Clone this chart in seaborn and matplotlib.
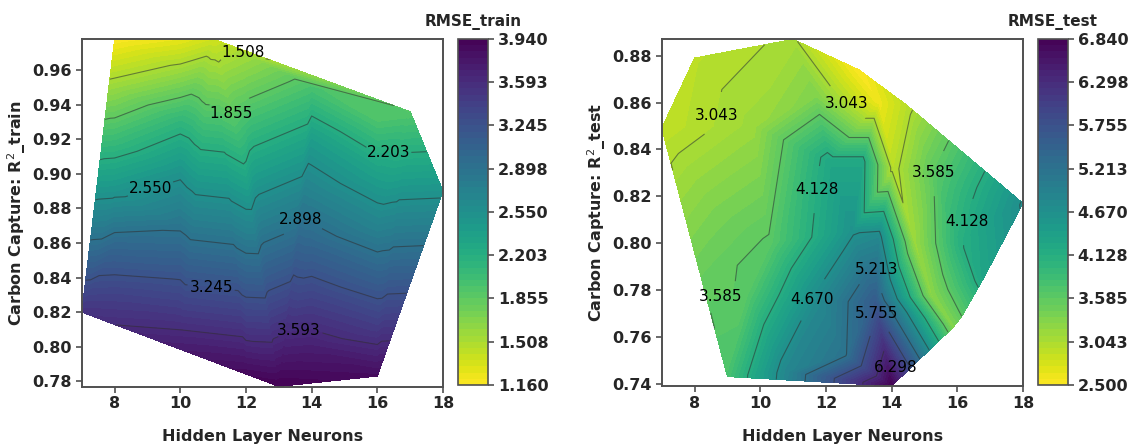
import numpy as np
import matplotlib
matplotlib.use("Agg")
import matplotlib.pyplot as plt
import matplotlib.tri as mtri
import seaborn as sns

# ---------------- data ----------------
# training set: hidden-layer neurons, R^2 (train), RMSE (train)
neurons_train = [7, 8, 11, 17, 18, 16, 13,
                 8, 8, 8, 8, 8,
                 10, 10, 10, 10, 10, 10, 10,
                 12, 12, 12, 12, 12, 12, 12,
                 14, 14, 14, 14, 14, 14,
                 16, 16, 16, 16, 16]
r2_train = [0.820, 0.978, 0.978, 0.936, 0.890, 0.783, 0.777,
            0.950, 0.920, 0.890, 0.860, 0.830,
            0.978, 0.960, 0.930, 0.900, 0.870, 0.840, 0.810,
            0.960, 0.930, 0.900, 0.870, 0.840, 0.810, 0.786,
            0.950, 0.920, 0.890, 0.860, 0.830, 0.800,
            0.930, 0.900, 0.870, 0.840, 0.810]
rmse_train = [3.52, 1.16, 1.35, 1.90, 2.50, 3.85, 3.94,
              1.59, 2.04, 2.49, 3.00, 3.40,
              1.25, 1.57, 2.11, 2.51, 2.86, 3.23, 3.59,
              1.65, 1.99, 2.27, 2.68, 3.09, 3.50, 3.85,
              1.96, 2.40, 2.70, 3.02, 3.37, 3.70,
              1.95, 2.36, 2.70, 3.09, 3.47]

# test set: hidden-layer neurons, R^2 (test), RMSE (test)
neurons_test = [7.00, 8.00, 11.00, 13.00, 14.45, 18.00, 16.80, 16.15, 15.87, 14.00, 9.00,
                8.30, 8.60, 9.60, 10.30, 9.80, 11.70, 12.10, 13.10, 12.80, 13.60,
                10.80, 11.80, 12.60, 13.50, 14.04, 14.70, 15.20, 15.30, 16.10, 17.00,
                13.60]
r2_test = [0.849, 0.879, 0.887, 0.874, 0.859, 0.817, 0.785, 0.769, 0.764, 0.739, 0.743,
           0.781, 0.815, 0.780, 0.800, 0.850, 0.862, 0.835, 0.835, 0.805, 0.803,
           0.745, 0.775, 0.752, 0.775, 0.832, 0.800, 0.778, 0.830, 0.800, 0.810,
           0.860]
rmse_test = [2.90, 2.95, 3.08, 2.50, 2.95, 4.70, 4.30, 3.60, 3.30, 6.84, 3.75,
             3.55, 3.35, 3.60, 3.62, 3.15, 3.35, 4.25, 4.25, 4.62, 4.80,
             4.85, 4.80, 5.20, 5.60, 2.95, 3.15, 3.25, 3.60, 4.10, 4.40,
             2.60]

train_cbar_labels = ["1.160", "1.508", "1.855", "2.203", "2.550",
                     "2.898", "3.245", "3.593", "3.940"]
test_cbar_labels = ["2.500", "3.043", "3.585", "4.128", "4.670",
                    "5.213", "5.755", "6.298", "6.840"]
xticks = [8, 10, 12, 14, 16, 18]
train_yticks = [0.78, 0.80, 0.82, 0.84, 0.86, 0.88, 0.90, 0.92, 0.94, 0.96]
test_yticks = [0.74, 0.76, 0.78, 0.80, 0.82, 0.84, 0.86, 0.88]

# contour-label placement: level index -> list of (x, y)
train_label_pos = {1: [(11.84, 0.966)], 2: [(11.48, 0.931)], 3: [(16.31, 0.916)],
                   4: [(9.00, 0.897)], 5: [(13.62, 0.874)], 6: [(10.96, 0.838)],
                   7: [(13.62, 0.809)]}
test_label_pos = {1: [(8.17, 0.856), (12.48, 0.857)],
                  2: [(14.99, 0.831), (8.72, 0.779)],
                  3: [(12.34, 0.822), (15.98, 0.810)],
                  4: [(11.42, 0.777)], 5: [(13.61, 0.789)],
                  6: [(13.33, 0.771)], 7: [(14.14, 0.747)]}

# ---------------- style ----------------
sns.set_theme(style="white")
plt.rcParams['font.family'] = ['DejaVu Sans']
cmap = sns.color_palette("viridis_r", as_cmap=True)

fig = plt.figure(figsize=(11.29, 4.44), dpi=100)
ax1 = fig.add_axes([0.0724, 0.1295, 0.3200, 0.7827])
cax1 = fig.add_axes([0.4057, 0.1329, 0.0266, 0.7793])
ax2 = fig.add_axes([0.5861, 0.1306, 0.3200, 0.7809])
cax2 = fig.add_axes([0.9194, 0.1329, 0.0266, 0.7793])

EDGE = '#505050'
TFS = 11.5


def panel(ax, cax, x, y, z, cb_labels, yticks, ylabel, title, label_pos,
          normalise=False):
    x = np.asarray(x, float)
    y = np.asarray(y, float)
    z = np.asarray(z, float)
    if normalise:
        xn = (x - x.min()) / (x.max() - x.min())
        yn = (y - y.min()) / (y.max() - y.min())
        tri = mtri.Triangulation(x, y, triangles=mtri.Triangulation(xn, yn).triangles)
    else:
        tri = mtri.Triangulation(x, y)
    vmin, vmax = z.min(), z.max()
    ticks = np.linspace(vmin, vmax, 9)
    levels = np.linspace(vmin, vmax, 57)
    cf = ax.tricontourf(tri, z, levels=levels, cmap=cmap, vmin=vmin, vmax=vmax)
    for i in range(1, 8):
        lv = ticks[i]
        cs = ax.tricontour(tri, z, levels=[lv], colors='#303030',
                           linewidths=0.8, alpha=0.55)
        if i in label_pos:
            ax.clabel(cs, fmt={cs.levels[0]: cb_labels[i]}, fontsize=11,
                      colors='black', inline=True, inline_spacing=2,
                      manual=label_pos[i])
            for t in cs.labelTexts:
                t.set_rotation(0)
                t.set_alpha(1.0)
                t.set_color('black')

    ax.set_xlim(x.min(), x.max())
    ax.set_ylim(y.min(), y.max())
    ax.set_xticks(xticks)
    ax.set_xticklabels([str(t) for t in xticks])
    ax.set_yticks(yticks)
    ax.set_yticklabels([f"{t:.2f}" for t in yticks])
    for lab in ax.get_xticklabels() + ax.get_yticklabels():
        lab.set_fontweight('bold')
        lab.set_fontsize(TFS)
    ax.tick_params(axis='both', which='major', direction='out', length=4,
                   width=1.2, color=EDGE, pad=3, left=True, bottom=True)
    for sp in ax.spines.values():
        sp.set_visible(True)
        sp.set_edgecolor(EDGE)
        sp.set_linewidth(1.4)
    ax.set_xlabel("Hidden Layer Neurons", fontweight='bold', fontsize=TFS,
                  labelpad=13)
    ax.set_ylabel(ylabel, fontweight='bold', fontsize=TFS, labelpad=3)

    cb = fig.colorbar(cf, cax=cax, ticks=ticks)
    cb.ax.set_yticklabels(cb_labels)
    for lab in cb.ax.get_yticklabels():
        lab.set_fontweight('bold')
        lab.set_fontsize(TFS)
    cb.ax.tick_params(direction='out', length=4, width=1.2, color=EDGE, pad=3,
                      right=True)
    cb.outline.set_edgecolor(EDGE)
    cb.outline.set_linewidth(1.2)
    cax.set_title(title, fontweight='bold', fontsize=11, pad=9)


panel(ax1, cax1, neurons_train, r2_train, rmse_train, train_cbar_labels,
      train_yticks, "Carbon Capture: R$^2$_train", "RMSE_train", train_label_pos)
panel(ax2, cax2, neurons_test, r2_test, rmse_test, test_cbar_labels,
      test_yticks, "Carbon Capture: R$^2$_test", "RMSE_test", test_label_pos,
      normalise=True)

fig.savefig("out.png", dpi=100)
